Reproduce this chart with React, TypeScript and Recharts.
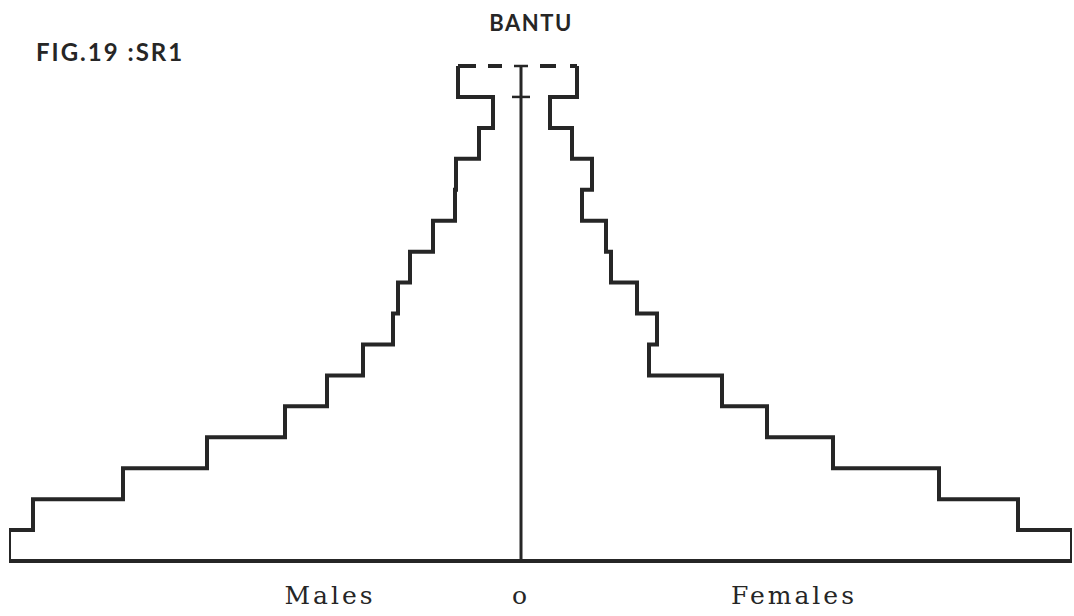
import React from 'react';
import { ComposedChart, Line, XAxis, YAxis, ReferenceLine } from 'recharts';

// Age groups, bottom (youngest) to top (oldest, open-ended)
const ageGroups = ['0-4', '5-9', '10-14', '15-19', '20-24', '25-29', '30-34', '35-39', '40-44', '45-49', '50-54', '55-59', '60-64', '65-69', '70-74', '75+'];
// Relative size of each age group (arbitrary units)
const males = [51.2, 48.8, 39.8, 31.4, 23.6, 19.4, 15.8, 12.8, 12.3, 11.1, 8.8, 6.6, 6.5, 4.2, 2.8, 6.3];
const females = [55.1, 49.7, 41.8, 31.2, 24.6, 20.1, 12.8, 13.6, 11.6, 9.0, 8.5, 6.1, 7.1, 5.1, 2.9, 5.6];
// Bottom labels placed on the x axis
const axisLabels = ['Males', 'o', 'Females'];
const axisLabelValues = [-19.1, 0, 27.3];

const title = 'BANTU';
const figLabel = 'FIG.19 :SR1';

const INK = '#262626';

const outline = ageGroups.map((g, i) => ({ group: g, pos: i, male: -males[i], female: females[i] }));
outline.push({
  group: 'top',
  pos: ageGroups.length,
  male: -males[males.length - 1],
  female: females[females.length - 1],
});

const topPos = ageGroups.length;
const lastPos = ageGroups.length - 1;

const AxisTick = (props: any) => {
  const { x, y, payload } = props;
  const idx = axisLabelValues.indexOf(payload.value);
  const label = idx >= 0 ? axisLabels[idx] : '';
  return (
    <text
      x={x}
      y={y + 35}
      textAnchor="middle"
      fill={INK}
      style={{ fontFamily: '"DejaVu Serif", serif', fontSize: 25, letterSpacing: 3 }}
    >
      {label}
    </text>
  );
};

export default function App() {
  return (
    <div style={{ position: 'absolute', left: 0, top: 0, width: 1074, height: 616, background: '#fff' }}>
      <ComposedChart
        width={1074}
        height={616}
        layout="vertical"
        data={outline}
        margin={{ top: 66, right: 2, bottom: 0, left: 9 }}
      >
        <XAxis
          type="number"
          domain={[-males[0], females[0]]}
          ticks={axisLabelValues}
          interval={0}
          axisLine={false}
          tickLine={false}
          height={55}
          tick={<AxisTick />}
          allowDataOverflow
        />
        <YAxis type="number" dataKey="pos" domain={[0, topPos]} reversed hide allowDataOverflow />
        {/* base line */}
        <ReferenceLine
          segment={[{ x: -males[0], y: 0 }, { x: females[0], y: 0 }]}
          stroke={INK}
          strokeWidth={4}
          ifOverflow="visible"
        />
        {/* central vertical axis */}
        <ReferenceLine
          segment={[{ x: 0, y: 0 }, { x: 0, y: topPos }]}
          stroke={INK}
          strokeWidth={3}
          ifOverflow="visible"
        />
        <ReferenceLine
          segment={[{ x: -0.7, y: topPos }, { x: 0.7, y: topPos }]}
          stroke={INK}
          strokeWidth={2.5}
          ifOverflow="visible"
        />
        <ReferenceLine
          segment={[{ x: -0.9, y: lastPos }, { x: 0.9, y: lastPos }]}
          stroke={INK}
          strokeWidth={2.5}
          ifOverflow="visible"
        />
        {/* open-ended top of the oldest group (dashed) */}
        <ReferenceLine
          segment={[{ x: -males[males.length - 1], y: topPos }, { x: -0.9, y: topPos }]}
          stroke={INK}
          strokeWidth={4}
          strokeDasharray="18 12 14 40"
          ifOverflow="visible"
        />
        <ReferenceLine
          segment={[{ x: females[females.length - 1], y: topPos }, { x: 0.9, y: topPos }]}
          stroke={INK}
          strokeWidth={4}
          strokeDasharray="7 14 16 40"
          ifOverflow="visible"
        />
        <Line
          dataKey="male"
          type="stepBefore"
          stroke={INK}
          strokeWidth={4}
          dot={false}
          activeDot={false}
          isAnimationActive={false}
          strokeLinejoin="miter"
        />
        <Line
          dataKey="female"
          type="stepBefore"
          stroke={INK}
          strokeWidth={4}
          dot={false}
          activeDot={false}
          isAnimationActive={false}
          strokeLinejoin="miter"
        />
      </ComposedChart>
      <svg
        width={1074}
        height={616}
        style={{ position: 'absolute', left: 0, top: 0, pointerEvents: 'none' }}
      >
        <text
          x={531}
          y={31}
          textAnchor="middle"
          fill={INK}
          style={{ fontFamily: 'Lato, sans-serif', fontWeight: 700, fontSize: 22, letterSpacing: 1.5 }}
        >
          {title}
        </text>
        <text
          x={36}
          y={61}
          fill={INK}
          style={{ fontFamily: 'Lato, sans-serif', fontWeight: 700, fontSize: 24, letterSpacing: 2 }}
        >
          {figLabel}
        </text>
      </svg>
    </div>
  );
}
